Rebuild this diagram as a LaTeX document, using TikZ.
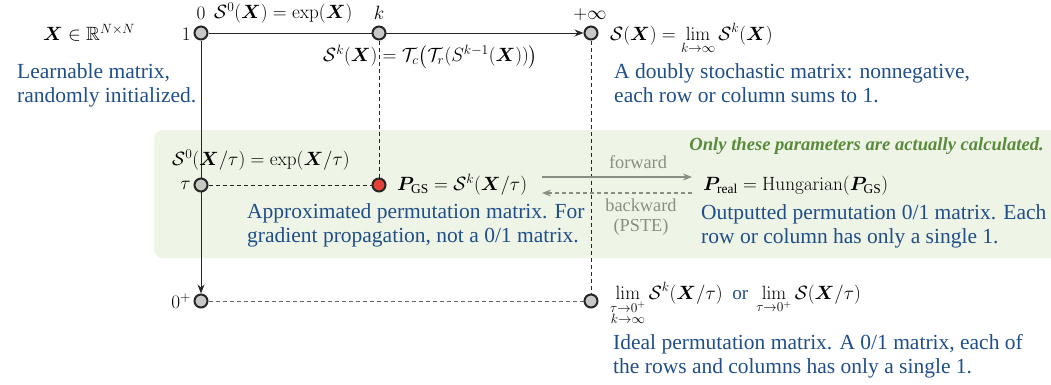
\RequirePackage{fix-cm}
\documentclass[tikz,border=0pt]{standalone}
\usepackage{amsmath,amssymb,bm}
\usepackage[no-math]{fontspec}
\setmainfont{Liberation Serif}
\usetikzlibrary{arrows.meta,backgrounds}
\definecolor{blueT}{HTML}{1F4E89}
\definecolor{greenBg}{HTML}{EEF4E6}
\definecolor{greenT}{HTML}{5A8B3C}
\definecolor{nodeGray}{HTML}{C8C8C8}
\definecolor{tauGray}{HTML}{C4CABF}
\definecolor{arrGray}{HTML}{8A8F85}
\definecolor{redN}{HTML}{E5413A}
\tikzset{
  dot/.style={circle, draw=black!85, line width=2pt, fill=nodeGray, minimum size=13pt, inner sep=0pt},
  txt/.style={text=blueT, font=\fontsize{21.5}{24}\selectfont, align=left, inner sep=0pt, anchor=north west},
  mth/.style={font=\fontsize{19.2}{23}\selectfont, inner sep=0pt},
  glabel/.style={text=arrGray, font=\fontsize{18.3}{22}\selectfont, inner sep=0pt, align=center},
  solidline/.style={line width=1pt, black!85},
  dashline/.style={line width=0.9pt, black!85, dash pattern=on 4pt off 3pt},
  tip/.style={-{Stealth[length=9pt,width=7pt]}},
}
\begin{document}
\begin{tikzpicture}[x=1pt,y=-1pt]
\useasboundingbox (0,0) rectangle (1051,384);
% nodes
\node[dot] (n1) at (201,33) {};
\node[dot] (nk) at (379,33) {};
\node[dot] (ninf) at (591,33) {};
\node[dot, fill=tauGray] (ntau) at (201,185) {};
\node[dot, fill=redN] (nred) at (379,185) {};
\node[dot] (nzero) at (201,301) {};
\node[dot] (nend) at (591,301) {};
\coordinate (fwdA) at (542,177);
\coordinate (fwdB) at (692,177);
\coordinate (bwdA) at (692,193);
\coordinate (bwdB) at (542,193);
% background: green box and connectors
\begin{scope}[on background layer]
  \begin{scope}
    \clip (0,0) rectangle (1051,384);
    \fill[greenBg, rounded corners=9pt] (154,130) rectangle (1065,258);
  \end{scope}
  \draw[solidline, tip] (n1) -- (ninf);
  \draw[solidline, tip] (n1) -- (nzero);
  \draw[dashline] (nk) -- (nred);
  \draw[dashline] (ninf) -- (nend);
  \draw[dashline] (ntau) -- (nred);
  \draw[dashline, black!60] (nzero) -- (nend);
  \draw[line width=1.2pt, arrGray, tip] (fwdA) -- (fwdB);
  \draw[line width=1.2pt, arrGray, dash pattern=on 4pt off 3pt, tip] (bwdA) -- (bwdB);
\end{scope}
% labels
\node[mth] (lX) at (89,33) {$\bm{X}\in\mathbb{R}^{N\times N}$};
\node[txt] (tLearn) at (17,63) {Learnable matrix,\\randomly initialized.};
\node[mth] (l0) at (201,13) {$0$};
\node[mth, anchor=east] (l1) at (191,34) {$1$};
\node[mth, anchor=west] (lS0) at (214,13) {$\mathcal{S}^0(\bm{X}) = \exp(\bm{X})$};
\node[mth] (lk) at (379,13) {$k$};
\node[mth, anchor=west] (lSk) at (323,57) {$\mathcal{S}^k(\bm{X}) = \mathcal{T}_c\big(\mathcal{T}_r(S^{k-1}(\bm{X}))\big)$};
\node[mth] (linf) at (590,15) {$+\infty$};
\node[mth, anchor=base west] (lSX) at (610,40) {$\mathcal{S}(\bm{X}) = \displaystyle\lim_{k\to\infty}\mathcal{S}^k(\bm{X})$};
\node[txt] (tDoubly) at (614,63) {A doubly stochastic matrix: nonnegative,\\each row or column sums to 1.};
\node[anchor=east, inner sep=0pt, text=greenT, font=\fontsize{18.6}{22}\selectfont\bfseries\itshape] (tOnly) at (1044,146) {Only these parameters are actually calculated.};
\node[mth, anchor=west] (lS0tau) at (172,160) {$\mathcal{S}^0(\bm{X}/\tau) = \exp(\bm{X}/\tau)$};
\node[mth, anchor=east] (ltau) at (191,185) {$\tau$};
\node[mth, anchor=west] (lPGS) at (397,185) {$\bm{P}_{\text{GS}} = \mathcal{S}^k(\bm{X}/\tau)$};
\node[txt] (tApprox) at (247,203) {Approximated permutation matrix. For\\gradient propagation, not a 0/1 matrix.};
\node[glabel] (lfwd) at (638,162) {forward};
\node[glabel, align=center] (lbwd) at (641,217) {backward\\[-2pt](PSTE)};
\node[mth, anchor=west] (lPreal) at (703,186) {$\bm{P}_{\text{real}} = \operatorname{Hungarian}(\bm{P}_{\text{GS}})$};
\node[txt] (tOut) at (701,204) {Outputted permutation 0/1 matrix. Each\\row or column has only a single 1.};
\node[mth, anchor=east] (l0p) at (191,301) {$0^{+}$};
\node[mth, anchor=base west] (lLim) at (610,299) {$\displaystyle\lim_{\substack{\tau\to0^+\\ k\to\infty}}\mathcal{S}^k(\bm{X}/\tau)\ \ \text{\textcolor{blueT}{or}}\ \lim_{\tau\to0^+}\mathcal{S}(\bm{X}/\tau)$};
\node[txt] (tIdeal) at (613,334) {Ideal permutation matrix. A 0/1 matrix, each of\\the rows and columns has only a single 1.};
\end{tikzpicture}
\end{document}
